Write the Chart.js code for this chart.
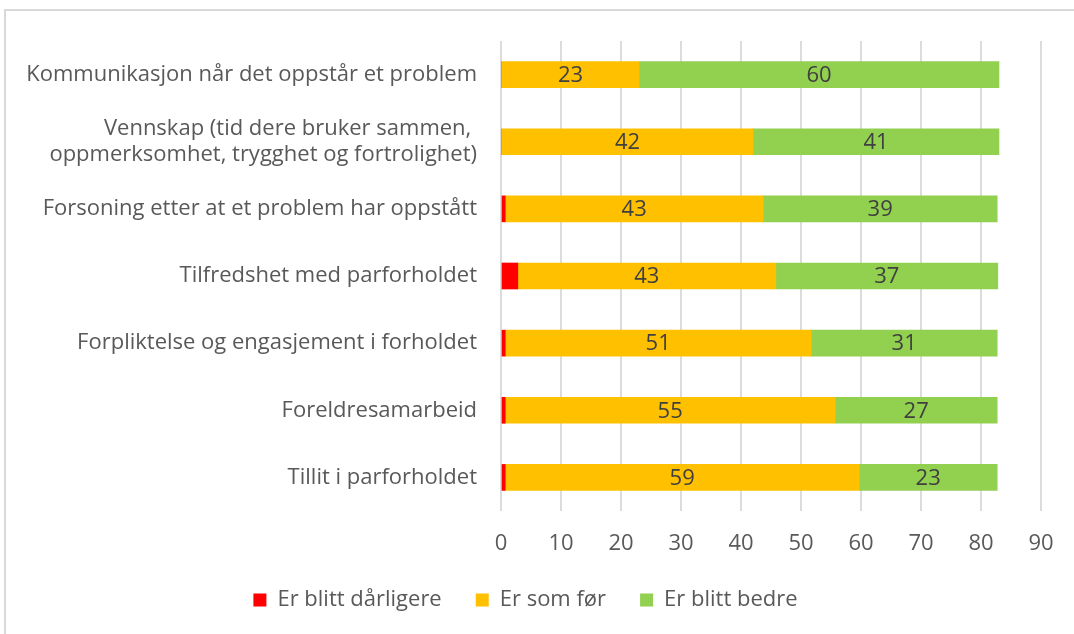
<!DOCTYPE html>
<html>
<head>
<meta charset="utf-8">
<script src="https://cdn.jsdelivr.net/npm/chart.js@4"></script>
<style>
  body { margin: 0; background: #fff; }
  #frame { position: absolute; left: 4px; top: 9px; width: 1080px; height: 640px;
           border-left: 2px solid #d9d9d9; border-top: 2px solid #d9d9d9; }
  #wrap { position: absolute; left: 0; top: 0; width: 1074px; height: 634px; }
</style>
</head>
<body>
<div id="frame"></div>
<div id="wrap"><canvas id="chart" width="1074" height="634"></canvas></div>
<script>
// categories (top to bottom)
const categories = [
    "Kommunikasjon når det oppstår et problem",
    ["Vennskap (tid dere bruker sammen, ", "oppmerksomhet, trygghet og fortrolighet)"],
    "Forsoning etter at et problem har oppstått",
    "Tilfredshet med parforholdet",
    "Forpliktelse og engasjement i forholdet",
    "Foreldresamarbeid",
    "Tillit i parforholdet"
];
const seriesNames = ["Er blitt dårligere", "Er som før", "Er blitt bedre"];
const worse = [0, 0, 0.7, 2.8, 0.7, 0.7, 0.7];
const same = [23, 42, 43, 43, 51, 55, 59];
const better = [60, 41, 39, 37, 31, 27, 23];
const xTicks = [0, 10, 20, 30, 40, 50, 60, 70, 80, 90];

const textColor = "#595959";
const fontFamily = "'Open Sans', sans-serif";
const fontSize = 22;

// writes the value in the middle of the yellow and green bars
const barLabels = {
    id: "barLabels",
    afterDatasetsDraw(chart) {
        let ctx = chart.ctx;
        ctx.save();
        ctx.font = fontSize + "px " + fontFamily;
        ctx.fillStyle = "#404040";
        ctx.textAlign = "center";
        ctx.textBaseline = "middle";
        [1, 2].forEach(di => {
            let meta = chart.getDatasetMeta(di);
            meta.data.forEach((bar, i) => {
                let v = chart.data.datasets[di].data[i];
                let cx = (bar.x + bar.base) / 2;
                ctx.fillText(Math.round(v), cx, bar.y + 1);
            });
        });
        ctx.restore();
    }
};

new Chart(document.getElementById("chart").getContext("2d"), {
    type: "bar",
    data: {
        labels: categories,
        datasets: [
            { label: seriesNames[0], data: worse, backgroundColor: "#FF0000" },
            { label: seriesNames[1], data: same, backgroundColor: "#FFC000" },
            { label: seriesNames[2], data: better, backgroundColor: "#92D050" }
        ]
    },
    options: {
        indexAxis: "y",
        responsive: false,
        animation: false,
        barThickness: 26,
        layout: { padding: { left: 10, right: 33, top: 41, bottom: 13 } },
        scales: {
            x: {
                stacked: true,
                min: 0,
                max: 90,
                afterBuildTicks: axis => { axis.ticks = xTicks.map(v => ({ value: v })); },
                afterFit: scale => { scale.height = 44; },
                grid: { color: "#dcdcdc", lineWidth: 2, drawTicks: false },
                border: { display: false },
                ticks: { color: textColor, font: { size: fontSize, family: fontFamily }, padding: 20 }
            },
            y: {
                stacked: true,
                grid: { display: false, drawTicks: false },
                border: { display: false },
                ticks: { color: textColor, font: { size: fontSize, family: fontFamily }, padding: 24, autoSkip: false },
                afterFit: scale => { scale.width = 491; }
            }
        },
        plugins: {
            legend: {
                position: "bottom",
                labels: {
                    color: textColor,
                    font: { size: 22, family: fontFamily },
                    boxWidth: 13,
                    boxHeight: 13,
                    padding: 34
                }
            },
            tooltip: { enabled: false }
        }
    },
    plugins: [barLabels]
});
</script>
</body>
</html>
